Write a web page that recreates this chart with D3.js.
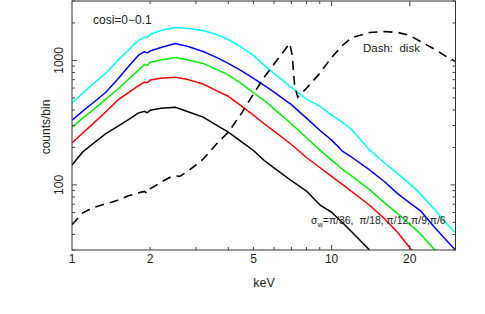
<!DOCTYPE html>
<html><head><meta charset="utf-8">
<script src="https://cdn.jsdelivr.net/npm/d3@7"></script>
<style>
body{margin:0;background:#fff;}
text{font-family:"Liberation Sans",Arial,Helvetica,sans-serif;fill:#222;white-space:pre;}
</style></head>
<body><svg id="c" width="485" height="314"></svg>
<script>
const energy = [1,1.1,1.2,1.35,1.5,1.65,1.8,1.9,1.95,2.0,2.2,2.5,2.8,3.2,3.6,4,4.5,5,5.5,6,7,8,9,10,11,12,14,16,18,20,22,25,28,30];
const cyan  = [453,545,643,787,1000,1213,1445,1545,1530,1620,1738,1837,1803,1738,1614,1472,1271,1097,912,787,608,488,429,363,319,275,191,150,122.5,102,84.7,63.1,47.9,41.3];
const blue  = [331,391,453,555,705,895,1097,1175,1150,1190,1271,1368,1294,1180,1057,946,824,718,631,555,441,344,275,229,187,166,132,106,84.7,71.8,61.9,45.3,35,30];
const green = [291,344,398,488,586,705,832,925,915,965,1009,1057,1009,946,847,766,649,550,476,408,310,239,191,158,134,117,91.7,71.8,58.6,48.4,40.3,29.8,24.2,21.3];
const red   = [217,261,308,387,479,552,623,668,663,695,718,731,701,646,572,515,429,363,310,270,211,166,138,117,101,87.9,68.6,53.5,41.3,31.3,24.7,18.0,13.9,12];
const black = [144.5,184,213,258,295,334,377,390,380,398,413,421,387,350,302,265,222,189,157,137,108,89.2,69.2,60.3,49.9,41.6,30,22.9,18.0,14.5,12,9.1,7.2,6.2];
const diskEnergy = [1,1.1,1.2,1.35,1.5,1.65,1.8,1.9,1.95,2.0,2.2,2.4,2.5,2.6,2.8,3.2,3.6,4,4.5,5,5.5,6,6.4,6.7,6.9,7.05,7.2,7.4,8,9,10,11,12,14,16,18,20,22,25,28,30];
const disk = [47.9,59.7,65.5,70.5,75.2,81.7,86.3,88.7,85.5,92.9,105,116,118,117,129,161,213,265,377,538,733,934,1117,1266,1368,1097,631,506,597,787,1057,1318,1528,1675,1706,1675,1585,1419,1225,1057,981];
const seriesColors = ["#00ffff","#0000ff","#00ee00","#ff0000","#000000"];
const xMajor = [1,2,5,10,20];
const yMajor = [100,1000];

const svg = d3.select("#c");
const L=72,R=455.5,T=1,B=250;
const x = d3.scaleLog().domain([1,30]).range([L,R]);
const y = d3.scaleLog().domain([30,3000]).range([B,T]);

svg.append("clipPath").attr("id","clip").append("rect")
  .attr("x",L).attr("y",T).attr("width",R-L).attr("height",B-T);

const g = svg.append("g").attr("clip-path","url(#clip)");
const line = d3.line().x(d=>x(d[0])).y(d=>y(d[1]));
[cyan,blue,green,red,black].forEach((s,i)=>{
  g.append("path").datum(energy.map((e,j)=>[e,s[j]]))
   .attr("d",line).attr("fill","none").attr("stroke",seriesColors[i])
   .attr("stroke-width",1.5).attr("stroke-linejoin","round");
});
g.append("path").datum(diskEnergy.map((e,j)=>[e,disk[j]]))
  .attr("d",line).attr("fill","none").attr("stroke","#000")
  .attr("stroke-width",1.6).attr("stroke-dasharray","9,6");

// frame
svg.append("rect").attr("x",L).attr("y",T).attr("width",R-L).attr("height",B-T)
  .attr("fill","none").attr("stroke","#333").attr("stroke-width",1);

// x ticks
const xt = [];
for(let d=1; d<=10; d*=10) for(let k=1;k<10;k++){const v=d*k; if(v>1 && v<30) xt.push(v);}
xt.forEach(v=>{
  const len = (v===10||v===20)?5:3;
  svg.append("line").attr("x1",x(v)).attr("x2",x(v)).attr("y1",B).attr("y2",B-len).attr("stroke","#444");
  svg.append("line").attr("x1",x(v)).attr("x2",x(v)).attr("y1",T).attr("y2",T+len).attr("stroke","#444");
});
xMajor.forEach(v=>{
  svg.append("text").attr("x",x(v)).attr("y",263).attr("text-anchor","middle")
    .attr("font-size",12).text(v);
});
// y ticks
const yt=[];
for(let d=10; d<=1000; d*=10) for(let k=1;k<10;k++){const v=d*k; if(v>=30 && v<=3000) yt.push(v);}
yt.forEach(v=>{
  const len = yMajor.includes(v)?5:3;
  svg.append("line").attr("x1",L).attr("x2",L+len).attr("y1",y(v)).attr("y2",y(v)).attr("stroke","#444");
  svg.append("line").attr("x1",R).attr("x2",R-len).attr("y1",y(v)).attr("y2",y(v)).attr("stroke","#444");
});
yMajor.forEach(v=>{
  svg.append("text").attr("transform",`translate(63,${y(v)}) rotate(-90)`)
    .attr("text-anchor","middle").attr("font-size",12).text(v);
});
svg.append("text").attr("transform","translate(50,127) rotate(-90)")
  .attr("text-anchor","middle").attr("font-size",12).text("counts/bin");
svg.append("text").attr("x",264).attr("y",287).attr("text-anchor","middle")
  .attr("font-size",12.5).text("keV");
svg.append("text").attr("x",93).attr("y",24).attr("font-size",12).text("cosi=0\u22120.1");
svg.append("text").attr("x",363).attr("y",52).attr("font-size",11.5).text("Dash:  disk");
const sl = svg.append("text").attr("x",311).attr("y",224).attr("font-size",10.4);
sl.append("tspan").text("\u03c3");
sl.append("tspan").attr("font-size",7.5).attr("dy",3).text("w");
sl.append("tspan").attr("dy",-3).text("=\u03c0/36,  \u03c0/18, \u03c0/12,\u03c0/9,\u03c0/6");
</script></body></html>
